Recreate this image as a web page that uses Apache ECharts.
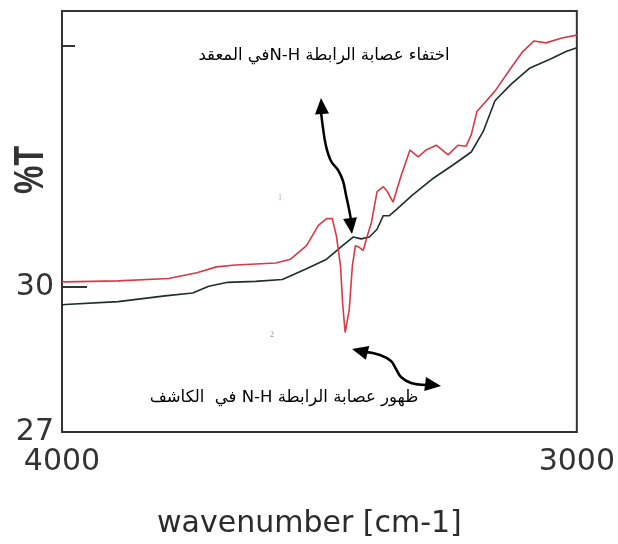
<!DOCTYPE html>
<html>
<head>
<meta charset="utf-8">
<script src="https://cdn.jsdelivr.net/npm/echarts@6/dist/echarts.min.js"></script>
<style>
  html, body { margin: 0; padding: 0; background: #ffffff; }
  #chart { width: 618px; height: 544px; }
</style>
</head>
<body>
<div id="chart"></div>
<script>
// IR spectrum, complex (1, red) and ligand (2, black), 4000–3000 cm-1
const complexWavenumber = [4000, 3994, 3891, 3793, 3738, 3700, 3663, 3585, 3556, 3525, 3502, 3486, 3475, 3467, 3459, 3455, 3450, 3442, 3436, 3430, 3422, 3415, 3407, 3399, 3388, 3376, 3368, 3357, 3341, 3324, 3308, 3293, 3273, 3250, 3231, 3215, 3205, 3194, 3159, 3128, 3105, 3083, 3060, 3029, 3000];
const complexTransmittance = [30.12, 30.11, 30.13, 30.18, 30.30, 30.42, 30.46, 30.50, 30.58, 30.86, 31.28, 31.42, 31.42, 31.06, 30.44, 29.68, 29.06, 29.54, 30.44, 30.86, 30.82, 30.76, 31.06, 31.34, 31.98, 32.08, 31.98, 31.76, 32.32, 32.84, 32.70, 32.84, 32.94, 32.74, 32.94, 32.92, 33.16, 33.64, 34.06, 34.54, 34.88, 35.10, 35.06, 35.16, 35.22];

const ligandWavenumber = [4000, 3994, 3891, 3800, 3746, 3715, 3678, 3624, 3572, 3525, 3486, 3455, 3434, 3419, 3403, 3388, 3376, 3364, 3349, 3320, 3281, 3242, 3205, 3182, 3159, 3128, 3091, 3052, 3021, 3000];
const ligandTransmittance = [29.63, 29.64, 29.70, 29.82, 29.88, 30.02, 30.10, 30.12, 30.16, 30.38, 30.58, 30.86, 31.04, 31.00, 31.04, 31.20, 31.48, 31.48, 31.62, 31.90, 32.24, 32.52, 32.80, 33.22, 33.86, 34.20, 34.54, 34.72, 34.88, 34.96];

const yLabelValues = [27, 30];
const yMajorTick = [30];
const yMinorTick = [35];

const pairs = (xs, ys) => xs.map((x, i) => [x, ys[i]]);

// Bidi embedding so the Latin "N-H" sits correctly inside the Arabic sentence
const rtl = s => '\u202B' + s + '\u202C';
const noteTop = 'اختفاء عصابة الرابطة N-Hفي المعقد';
const noteBottom = 'ظهور عصابة الرابطة N-H في  الكاشف';

function arrowHead(tip, from, len, half) {
  const dx = tip[0] - from[0], dy = tip[1] - from[1];
  const d = Math.hypot(dx, dy);
  const ux = dx / d, uy = dy / d;
  const bx = tip[0] - ux * len, by = tip[1] - uy * len;
  return [[tip[0], tip[1]], [bx - uy * half, by + ux * half], [bx + uy * half, by - ux * half]];
}

const arrowStyle = { stroke: '#000', lineWidth: 2.5, fill: null };
const headStyle = { fill: '#000' };

const chart = echarts.init(document.getElementById('chart'), null, { renderer: 'canvas' });

chart.setOption({
  backgroundColor: '#ffffff',
  animation: false,
  grid: {
    left: 62, right: 40, top: 11, bottom: 97,
    show: true, borderColor: '#333', borderWidth: 2, backgroundColor: 'transparent'
  },
  xAxis: {
    type: 'value', min: 3000, max: 4000, interval: 1000, inverse: true,
    axisLine: { show: false }, axisTick: { show: false }, splitLine: { show: false },
    axisLabel: {
      fontFamily: 'DejaVu Sans', fontSize: 30, color: '#333', margin: 15,
      formatter: v => String(v)
    },
    name: 'wavenumber [cm-1]', nameLocation: 'middle', nameGap: 77,
    nameTextStyle: { fontFamily: 'DejaVu Sans', fontSize: 30, color: '#2b2b2b', padding: [0, 20, 0, 0] }
  },
  yAxis: [{
    type: 'value', min: 27, max: 35.72,
    axisLine: { show: false }, splitLine: { show: false },
    axisTick: { show: true, inside: true, length: 25, customValues: yMajorTick, lineStyle: { color: '#333', width: 2 } },
    axisLabel: { customValues: yLabelValues, fontFamily: 'DejaVu Sans', fontSize: 30, color: '#333', margin: 8 }
  }, {
    type: 'value', min: 27, max: 35.72, position: 'left',
    axisLine: { show: false }, splitLine: { show: false },
    axisTick: { show: true, inside: true, length: 13, customValues: yMinorTick, lineStyle: { color: '#333', width: 2 } },
    axisLabel: { show: false }
  }],
  series: [{
    name: '1', type: 'line', showSymbol: false, silent: true,
    data: pairs(complexWavenumber, complexTransmittance),
    lineStyle: { color: '#d63a48', width: 1.6 }, z: 3
  }, {
    name: '2', type: 'line', showSymbol: false, silent: true,
    data: pairs(ligandWavenumber, ligandTransmittance),
    lineStyle: { color: '#1e2e29', width: 1.6 }, z: 2
  }],
  graphic: [
    {
      type: 'text', x: 31, y: 170, rotation: Math.PI / 2, scaleY: 1.35,
      style: { text: '%T', font: 'bold 32px "Liberation Sans", Arial, sans-serif', fill: '#333', align: 'center', verticalAlign: 'middle' }
    },
    {
      type: 'text', x: 324, y: 56,
      style: { text: rtl(noteTop), font: '16.5px "DejaVu Sans", sans-serif', fill: '#000', align: 'center', verticalAlign: 'middle' }
    },
    {
      type: 'text', x: 284, y: 398,
      style: { text: rtl(noteBottom), font: '16.5px "DejaVu Sans", sans-serif', fill: '#000', align: 'center', verticalAlign: 'middle' }
    },
    {
      type: 'text', x: 280, y: 198,
      style: { text: '1', font: '8px "Liberation Serif", serif', fill: '#caa3aa', align: 'center', verticalAlign: 'middle' }
    },
    {
      type: 'text', x: 272, y: 335,
      style: { text: '2', font: '8px "Liberation Serif", serif', fill: '#9a9a9a', align: 'center', verticalAlign: 'middle' }
    },
    // double-headed arrow pointing at the vanished N-H band
    {
      type: 'polyline', shape: { points: [[321, 112], [323, 128], [326, 146], [331, 161], [338, 170], [343, 181], [346, 195], [349, 209], [351, 220]], smooth: 0.4 },
      style: arrowStyle
    },
    { type: 'polygon', shape: { points: arrowHead([321, 98], [322, 114], 16, 7) }, style: headStyle },
    { type: 'polygon', shape: { points: arrowHead([352, 234], [350, 218], 16, 7) }, style: headStyle },
    // double-headed arrow pointing at the N-H band of the ligand
    {
      type: 'polyline', shape: { points: [[366, 352], [380, 355], [391, 361], [396, 369], [401, 377], [411, 383], [426, 385]], smooth: 0.4 },
      style: arrowStyle
    },
    { type: 'polygon', shape: { points: arrowHead([352, 349], [368, 353], 16, 7) }, style: headStyle },
    { type: 'polygon', shape: { points: arrowHead([441, 386], [425, 384], 16, 7) }, style: headStyle }
  ]
});
</script>
</body>
</html>
